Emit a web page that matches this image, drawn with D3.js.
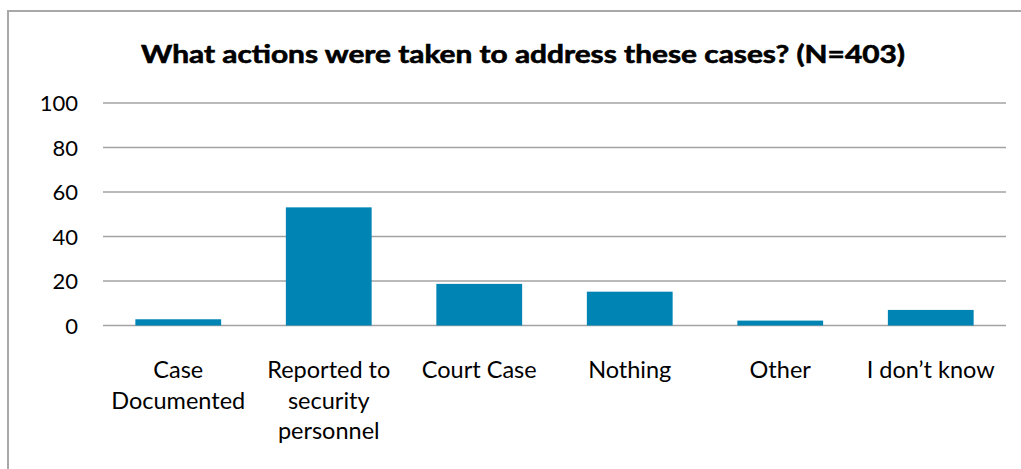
<!DOCTYPE html>
<html><head><meta charset="utf-8">
<script src="https://cdn.jsdelivr.net/npm/d3@7"></script>
<style>body{margin:0;background:#fff}svg{display:block}</style>
</head><body>
<script>
const categories = ["Case\nDocumented", "Reported to\nsecurity\npersonnel", "Court Case", "Nothing", "Other", "I don\u2019t know"];
const values = [2.8, 53.1, 18.7, 15.2, 2.2, 7.0];
const yTicks = [0, 20, 40, 60, 80, 100];
const title = "What actions were taken to address these cases? (N=403)";

const W = 1021, H = 469;
const svg = d3.select("body").append("svg").attr("width", W).attr("height", H);

// frame border
svg.append("path").attr("d", `M8,${H} V11 H${W}`).attr("fill", "none")
  .attr("stroke", "#a8a8a8").attr("stroke-width", 2);

const x = d3.scaleBand().domain(categories).range([103, 1006]).paddingInner(0.43).paddingOuter(0.215);
const y = d3.scaleLinear().domain([0, 100]).range([325.5, 103]);

const font = "Lato, 'Open Sans', sans-serif";

// gridlines
svg.append("g").selectAll("line").data(yTicks).join("line")
  .attr("x1", 103).attr("x2", 1006)
  .attr("y1", d => y(d)).attr("y2", d => y(d))
  .attr("stroke", "#a3a3a3").attr("stroke-width", 1.6);

// y axis labels
const yAxis = d3.axisLeft(y).tickValues(yTicks).tickSize(0).tickPadding(0);
const ga = svg.append("g").attr("transform", "translate(78,0)").call(yAxis);
ga.select(".domain").remove();
ga.selectAll("text").attr("font-family", font).attr("font-size", 22).attr("fill", "#000").attr("dy", "0.36em");

// bars
svg.append("g").selectAll("rect").data(values).join("rect")
  .attr("x", (d, i) => x(categories[i]))
  .attr("width", x.bandwidth())
  .attr("y", d => y(d))
  .attr("height", d => y(0) - y(d))
  .attr("fill", "#0084b4");

// x labels
const xl = svg.append("g").selectAll("text").data(categories).join("text")
  .attr("x", d => x(d) + x.bandwidth() / 2)
  .attr("y", 378)
  .attr("text-anchor", "middle")
  .attr("font-family", font).attr("font-size", 23.5).attr("fill", "#000");
xl.each(function(d) {
  const t = d3.select(this);
  d.split("\n").forEach((line, k) => {
    t.append("tspan").attr("x", x(d) + x.bandwidth() / 2).attr("dy", k === 0 ? 0 : 30.5).text(line);
  });
});

// title
svg.append("text").attr("x", 523).attr("y", 63).attr("text-anchor", "middle")
  .attr("font-family", font).attr("font-weight", "bold").attr("font-size", 24)
  .attr("stroke", "#000").attr("stroke-width", 0.6)
  .attr("textLength", 764).attr("lengthAdjust", "spacingAndGlyphs")
  .text(title);
</script>
</body></html>
